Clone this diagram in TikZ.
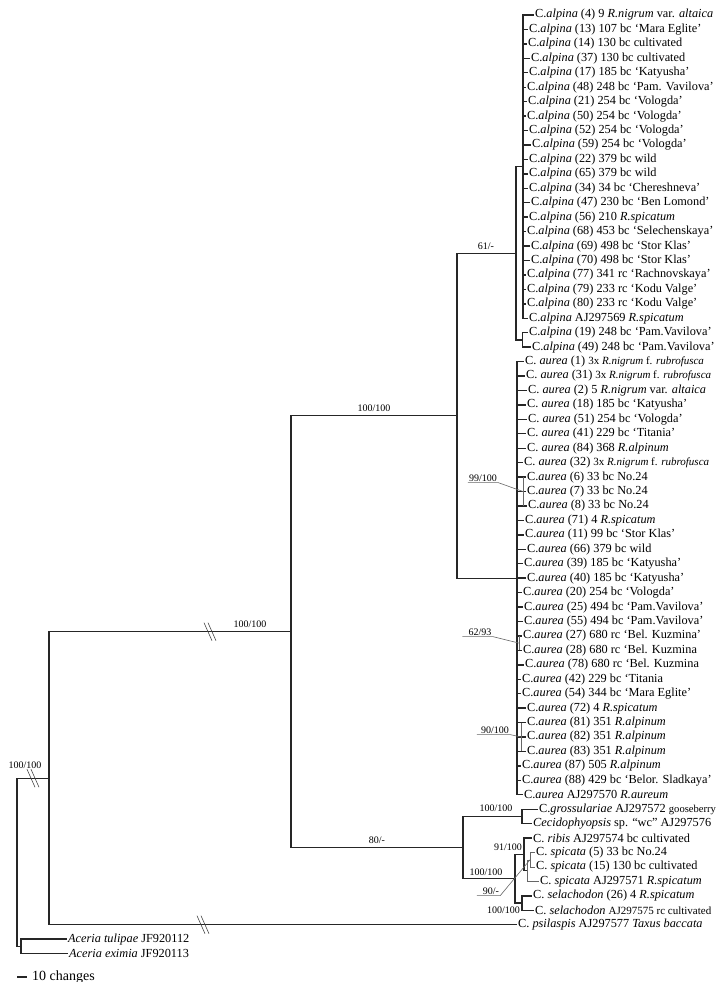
\documentclass[tikz,border=0pt]{standalone}
\usepackage{fontspec}
\setmainfont{Liberation Serif}
\usepackage{tikz}
\usetikzlibrary{calc,positioning}

\newcommand\smtxt{\fontsize{11}{13}\selectfont}
\newcommand\smtxtb{\fontsize{10.6}{12}\selectfont}

\tikzset{
  branch/.style={draw=black!85,line width=1.4pt},
  thinbar/.style={draw=black!60,line width=0.6pt},
  breakmark/.style={draw=black!70,line width=0.6pt},
  leaf/.style={anchor=west,inner sep=1pt,font=\fontsize{12.3}{14}\selectfont},
  support/.style={inner sep=1pt,font=\fontsize{10}{12}\selectfont},
}

\begin{document}
\begin{tikzpicture}[x=1pt,y=-1pt]
  \useasboundingbox (0,0) rectangle (715,982);
  \coordinate (nRoot) at (17,862.3);
  \coordinate (nIng)  at (49,778.2);
  \coordinate (nOut)  at (21,946.4);
  \coordinate (nCec)  at (291,631.7);
  \coordinate (nAA)   at (457,415.7);
  \coordinate (nAlp)  at (516,253.3);
  \coordinate (nAlpA) at (523,166.6);
  \coordinate (nAlpB) at (522.5,339.9);
  \coordinate (nAur)  at (517,578.2);
  \coordinate (nLow)  at (463,847.6);
  \coordinate (nGro)  at (522,816.5);
  \coordinate (nRib)  at (515,878.7);
  \coordinate (nRS)   at (524,854.4);
  \coordinate (nSpi)  at (527,870.6);
  \coordinate (nSpiB) at (530,859.8);
  \coordinate (nSel)  at (522,903);
  \coordinate (nSub99) at (523,491.5);
  \coordinate (nSub62) at (519,643.1);
  \coordinate (nSub90) at (521,737.0);

  \draw[branch] (nRoot) |- (nIng);
  \draw[branch] (nRoot) |- (nOut);
  \draw[branch] (nIng) |- (nCec);
  \draw[branch] (nCec) |- (nAA);
  \draw[branch] (nCec) |- (nLow);
  \draw[branch] (nAA) |- (nAlp);
  \draw[branch] (nAA) |- (nAur);
  \draw[branch] (nAlp) |- (nAlpA);
  \draw[branch] (nAlp) |- (nAlpB);
  \draw[branch] (nLow) |- (nGro);
  \draw[branch] (nLow) |- (nRib);
  \draw[branch] (nRib) |- (nRS);
  \draw[branch] (nRib) |- (nSel);
  \draw[branch] (nRS) |- (nSpi);
  \draw[thinbar] (nSpi) |- (nSpiB);

  \foreach \i/\p/\tx/\s/\txt in {
    1/nAlpA/534/branch/{C.\textit{alpina} (4) 9 \textit{R.nigrum} var. \textit{altaica}},
    2/nAlpA/528/branch/{C.\textit{alpina} (13) 107 bc ‘Mara Eglite’},
    3/nAlpA/527/branch/{C.\textit{alpina} (14) 130 bc cultivated},
    4/nAlpA/530/branch/{C.\textit{alpina} (37) 130 bc cultivated},
    5/nAlpA/528/branch/{C.\textit{alpina} (17) 185 bc ‘Katyusha’},
    6/nAlpA/526/branch/{C.\textit{alpina} (48) 248 bc ‘Pam. Vavilova’},
    7/nAlpA/527/branch/{C.\textit{alpina} (21) 254 bc ‘Vologda’},
    8/nAlpA/526/branch/{C.\textit{alpina} (50) 254 bc ‘Vologda’},
    9/nAlpA/528/branch/{C.\textit{alpina} (52) 254 bc ‘Vologda’},
    10/nAlpA/531/branch/{C.\textit{alpina} (59) 254 bc ‘Vologda’},
    11/nAlpA/528/branch/{C.\textit{alpina} (22) 379 bc wild},
    12/nAlpA/528/branch/{C.\textit{alpina} (65) 379 bc wild},
    13/nAlpA/528/branch/{C.\textit{alpina} (34) 34 bc ‘Chereshneva’},
    14/nAlpA/530/branch/{C.\textit{alpina} (47) 230 bc ‘Ben Lomond’},
    15/nAlpA/528/branch/{C.\textit{alpina} (56) 210 \textit{R.spicatum}},
    16/nAlpA/526/branch/{C.\textit{alpina} (68) 453 bc ‘Selechenskaya’},
    17/nAlpA/530/branch/{C.\textit{alpina} (69) 498 bc ‘Stor Klas’},
    18/nAlpA/530/branch/{C.\textit{alpina} (70) 498 bc ‘Stor Klas’},
    19/nAlpA/526/branch/{C.\textit{alpina} (77) 341 rc ‘Rachnovskaya’},
    20/nAlpA/526/branch/{C.\textit{alpina} (79) 233 rc ‘Kodu Valge’},
    21/nAlpA/526/branch/{C.\textit{alpina} (80) 233 rc ‘Kodu Valge’},
    22/nAlpA/528/branch/{C.\textit{alpina} AJ297569 \textit{R.spicatum}},
    23/nAlpB/528/branch/{C.\textit{alpina} (19) 248 bc ‘Pam.Vavilova’},
    24/nAlpB/531/branch/{C.\textit{alpina} (49) 248 bc ‘Pam.Vavilova’},
    25/nAur/524/branch/{C. \textit{aurea} (1) {\smtxt 3x \textit{R.nigrum} f. \textit{rubrofusca}}},
    26/nAur/525/branch/{C. \textit{aurea} (31) {\smtxt 3x \textit{R.nigrum} f. \textit{rubrofusca}}},
    27/nAur/527/branch/{C. \textit{aurea} (2) 5 \textit{R.nigrum} var. \textit{altaica}},
    28/nAur/526/branch/{C. \textit{aurea} (18) 185 bc ‘Katyusha’},
    29/nAur/527/branch/{C. \textit{aurea} (51) 254 bc ‘Vologda’},
    30/nAur/526/branch/{C. \textit{aurea} (41) 229 bc ‘Titania’},
    31/nAur/526/branch/{C. \textit{aurea} (84) 368 \textit{R.alpinum}},
    32/nAur/523/branch/{C. \textit{aurea} (32) {\smtxt 3x \textit{R.nigrum} f. \textit{rubrofusca}}},
    33/nAur/526/branch/{C.\textit{aurea} (6) 33 bc No.24},
    34/nAur/526/branch/{C.\textit{aurea} (7) 33 bc No.24},
    35/nAur/527/branch/{C.\textit{aurea} (8) 33 bc No.24},
    36/nAur/524/branch/{C.\textit{aurea} (71) 4 \textit{R.spicatum}},
    37/nAur/524/branch/{C.\textit{aurea} (11) 99 bc ‘Stor Klas’},
    38/nAur/526/branch/{C.\textit{aurea} (66) 379 bc wild},
    39/nAur/523/branch/{C.\textit{aurea} (39) 185 bc ‘Katyusha’},
    40/nAur/526/branch/{C.\textit{aurea} (40) 185 bc ‘Katyusha’},
    41/nAur/522/branch/{C.\textit{aurea} (20) 254 bc ‘Vologda’},
    42/nAur/523/branch/{C.\textit{aurea} (25) 494 bc ‘Pam.Vavilova’},
    43/nAur/523/branch/{C.\textit{aurea} (55) 494 bc ‘Pam.Vavilova’},
    44/nAur/522/branch/{C.\textit{aurea} (27) 680 rc ‘Bel. Kuzmina’},
    45/nAur/522/branch/{C.\textit{aurea} (28) 680 rc ‘Bel. Kuzmina},
    46/nAur/524/branch/{C.\textit{aurea} (78) 680 rc ‘Bel. Kuzmina},
    47/nAur/521/branch/{C.\textit{aurea} (42) 229 bc ‘Titania},
    48/nAur/521/branch/{C.\textit{aurea} (54) 344 bc ‘Mara Eglite’},
    49/nAur/526/branch/{C.\textit{aurea} (72) 4 \textit{R.spicatum}},
    50/nAur/526/branch/{C.\textit{aurea} (81) 351 \textit{R.alpinum}},
    51/nAur/526/branch/{C.\textit{aurea} (82) 351 \textit{R.alpinum}},
    52/nAur/526/branch/{C.\textit{aurea} (83) 351 \textit{R.alpinum}},
    53/nAur/521/branch/{C.\textit{aurea} (87) 505 \textit{R.alpinum}},
    54/nAur/521/branch/{C.\textit{aurea} (88) 429 bc ‘Belor. Sladkaya’},
    55/nAur/523/branch/{C.\textit{aurea} AJ297570 \textit{R.aureum}},
    56/nGro/538/branch/{C.\textit{grossulariae} AJ297572 {\smtxtb gooseberry}},
    57/nGro/532/branch/{\textit{Cecidophyopsis} sp. “wc” AJ297576},
    58/nRS/532/branch/{C. \textit{ribis} AJ297574 bc cultivated},
    59/nSpiB/535/thinbar/{C. \textit{spicata} (5) 33 bc No.24},
    60/nSpiB/535/thinbar/{C. \textit{spicata} (15) 130 bc cultivated},
    61/nSpi/539/thinbar/{C. \textit{spicata} AJ297571 \textit{R.spicatum}},
    62/nSel/532/branch/{C. \textit{selachodon} (26) 4 \textit{R.spicatum}},
    63/nSel/534/branch/{C. \textit{selachodon} {\smtxt AJ297575 rc cultivated}},
    64/nIng/517/branch/{C. \textit{psilaspis} AJ297577 \textit{Taxus baccata}},
    65/nOut/67/branch/{\textit{Aceria tulipae} JF920112},
    66/nOut/68/branch/{\textit{Aceria eximia} JF920113}}{
    \node[leaf] (L\i) at (\tx,{15+(\i-1)*14.44}) {\txt};
    \draw[\s] (\p) |- (L\i.west);
  }

  \draw[thinbar] (L33.west -| nSub99) -- (L35.west -| nSub99);
  \draw[thinbar] (L44.west -| nSub62) -- (L45.west -| nSub62);
  \draw[thinbar] (L50.west -| nSub90) -- (L52.west -| nSub90);

  \node[support] (sRoot) at (25,765) {100/100};
  \node[support] (sCec) at (250,624) {100/100};
  \node[support] (sAA) at (374,408) {100/100};
  \node[support] (sAlp) at (486,246) {61/-};
  \node[support] (s99) at (483,478) {99/100};
  \node[support] (s62) at (480,632) {62/93};
  \node[support] (s90) at (495,730) {90/100};
  \node[support] (sLow) at (377,840) {80/-};
  \node[support] (sGro) at (496,808) {100/100};
  \node[support] (sRib) at (486,872) {100/100};
  \node[support,anchor=east] (sRS) at (523,847) {91/100};
  \node[support] (sSpi) at (491,891) {90/-};
  \node[support,anchor=east] (sSel) at (521,910) {100/100};

  \draw[thinbar] (s99.south west) -- (s99.south east) -- (nSub99);
  \draw[thinbar] ([xshift=-5pt]s62.south west) -- (s62.south east) -- (nSub62);
  \draw[thinbar] ([xshift=-3pt]s90.south west) -- (s90.south east) -- (nSub90);
  \draw[thinbar] ([xshift=-5pt]sSpi.south west) -- (sSpi.south east) -- (nSpiB);

  \coordinate (bkRoot) at (33,778.2);
  \coordinate (bkCec) at (210,631.7);
  \coordinate (bkPsi) at (203,924.7);
  \foreach \c in {bkRoot,bkCec,bkPsi}{
    \draw[breakmark] ($(\c)+(-6,-9)$) -- ($(\c)+(2,9)$);
    \draw[breakmark] ($(\c)+(-2,-9)$) -- ($(\c)+(6,9)$);
  }

  \coordinate (sb0) at (17,977);
  \coordinate (sb1) at (27,977);
  \draw[branch] (sb0) -- (sb1);
  \node[anchor=west,inner sep=1pt,font=\fontsize{14}{16}\selectfont] (sbLab) at ([xshift=4pt]sb1) {10 changes};
\end{tikzpicture}
\end{document}
